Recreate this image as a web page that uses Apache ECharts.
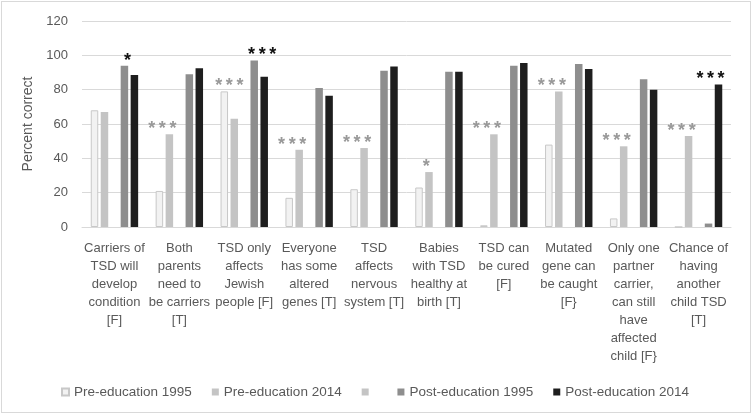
<!DOCTYPE html>
<html>
<head>
<meta charset="utf-8">
<script src="https://cdn.jsdelivr.net/npm/echarts@6/dist/echarts.min.js"></script>
<style>
  html, body { margin: 0; padding: 0; background: #fff; }
  #chart { position: absolute; left: 1px; top: 1px; width: 748px; height: 410px; border: 1px solid #d9d9d9; }
</style>
</head>
<body>
<div id="chart"></div>
<script>
const categories = [
  'Carriers of\nTSD will\ndevelop\ncondition\n[F]',
  'Both\nparents\nneed to\nbe carriers\n[T]',
  'TSD only\naffects\nJewish\npeople [F]',
  'Everyone\nhas some\naltered\ngenes [T]',
  'TSD\naffects\nnervous\nsystem [T]',
  'Babies\nwith TSD\nhealthy at\nbirth [T]',
  'TSD can\nbe cured\n[F]',
  'Mutated\ngene can\nbe caught\n[F}',
  'Only one\npartner\ncarrier,\ncan still\nhave\naffected\nchild [F}',
  'Chance of\nhaving\nanother\nchild TSD\n[T]'
]
const pre1995 = [68, 21, 79, 17, 22, 23, 1, 48, 5, 0]
const pre2014 = [67, 54, 63, 45, 46, 32, 54, 79, 47, 53]
const blank = [0, 0, 0, 0, 0, 0, 0, 0, 0, 0]
const post1995 = [94, 89, 97, 81, 91, 90.5, 94, 95, 86, 2]
const post2014 = [88.5, 92.5, 87.5, 76.5, 93.5, 90.5, 95.5, 92, 80, 83]
const preStars = ['', '***', '***', '***', '***', '*', '***', '***', '***', '***']
const postStars = ['*', '', '***', '', '', '', '', '', '', '***']

const starLabel = (text, color, dx) => ({
  show: true,
  position: 'top',
  distance: -4,
  offset: [text.length > 1 ? dx : dx * 0.4, 0],
  formatter: text.split('').join('\u2009'),
  color: color,
  fontSize: 18,
  fontWeight: 'bold',
  fontFamily: 'Liberation Sans'
})

// put the stars on the taller bar of each pair
function withStars(values, other, stars, color, dx, mine) {
  return values.map((v, i) => {
    const s = stars[i]
    const taller = mine ? v >= other[i] : v > other[i]
    if (!s || !taller) return v
    return { value: v, label: starLabel(s, color, dx) }
  })
}

const chart = echarts.init(document.getElementById('chart'))
const font = 'Liberation Sans Narrow, Liberation Sans, sans-serif'

chart.setOption({
  animation: false,
  grid: { left: 80, right: 19, top: 19, bottom: 185 },
  legend: {
    left: 54,
    top: 378,
    itemWidth: 7,
    itemHeight: 7,
    itemGap: 20,
    icon: 'rect',
    textStyle: { fontSize: 13.5, color: '#595959', fontFamily: font },
    data: ['Pre-education 1995', 'Pre-education 2014', ' ', 'Post-education 1995', 'Post-education 2014']
  },
  xAxis: {
    type: 'category',
    data: categories,
    axisLine: { lineStyle: { color: '#d9d9d9' } },
    axisTick: { show: false },
    axisLabel: {
      interval: 0,
      margin: 12,
      fontSize: 13,
      lineHeight: 18,
      color: '#595959',
      fontFamily: font
    }
  },
  yAxis: {
    type: 'value',
    min: 0,
    max: 120,
    interval: 20,
    name: 'Percent correct',
    nameLocation: 'middle',
    nameGap: 38,
    nameTextStyle: { fontSize: 14, color: '#595959', fontFamily: font },
    axisLine: { show: false },
    axisTick: { show: false },
    axisLabel: { fontSize: 13, color: '#595959', margin: 14, fontFamily: font },
    splitLine: { lineStyle: { color: '#d9d9d9', width: 1 } }
  },
  series: [
    {
      name: 'Pre-education 1995',
      type: 'bar',
      barWidth: 7.5,
      barGap: '33%',
      data: withStars(pre1995, pre2014, preStars, '#999999', 5, false),
      itemStyle: { color: '#f2f2f2', borderColor: '#c8c8c8', borderWidth: 1 }
    },
    {
      name: 'Pre-education 2014',
      type: 'bar',
      barWidth: 7.5,
      data: withStars(pre2014, pre1995, preStars, '#999999', -7, true),
      itemStyle: { color: '#c4c4c4' }
    },
    {
      name: ' ',
      type: 'bar',
      barWidth: 7.5,
      data: blank,
      itemStyle: { color: '#c4c4c4' }
    },
    {
      name: 'Post-education 1995',
      type: 'bar',
      barWidth: 7.5,
      data: withStars(post1995, post2014, postStars, '#111111', 8, false),
      itemStyle: { color: '#8e8e8e' }
    },
    {
      name: 'Post-education 2014',
      type: 'bar',
      barWidth: 7.5,
      data: withStars(post2014, post1995, postStars, '#111111', -8, true),
      itemStyle: { color: '#1e1e1e' }
    }
  ]
})
</script>
</body>
</html>
